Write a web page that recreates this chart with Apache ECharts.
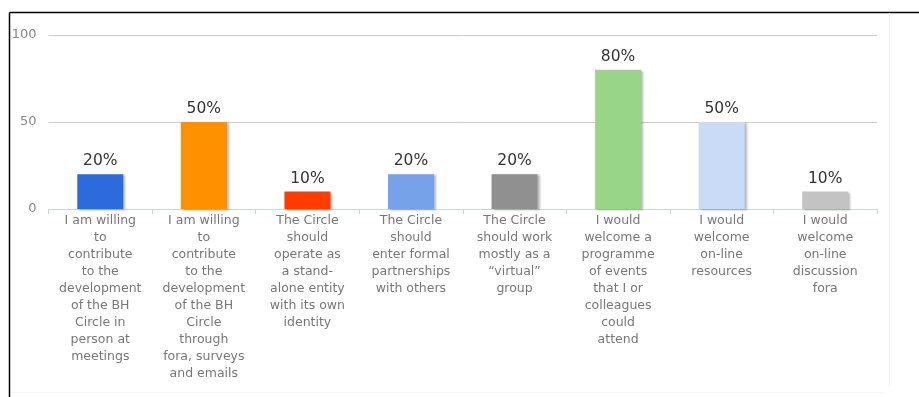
<!DOCTYPE html>
<html>
<head>
<meta charset="utf-8">
<script src="https://cdn.jsdelivr.net/npm/echarts@6/dist/echarts.min.js"></script>
<style>html,body{margin:0;padding:0;background:#fff}#c{width:919px;height:397px}</style>
</head>
<body>
<div id="c"></div>
<script>
var categories = [
  "I am willing\nto\ncontribute\nto the\ndevelopment\nof the BH\nCircle in\nperson at\nmeetings",
  "I am willing\nto\ncontribute\nto the\ndevelopment\nof the BH\nCircle\nthrough\nfora, surveys\nand emails",
  "The Circle\nshould\noperate as\na stand-\nalone entity\nwith its own\nidentity",
  "The Circle\nshould\nenter formal\npartnerships\nwith others",
  "The Circle\nshould work\nmostly as a\n\u201cvirtual\u201d\ngroup",
  "I would\nwelcome a\nprogramme\nof events\nthat I or\ncolleagues\ncould\nattend",
  "I would\nwelcome\non-line\nresources",
  "I would\nwelcome\non-line\ndiscussion\nfora"
];
var values = [20, 50, 10, 20, 20, 80, 50, 10];
var colors = ["#2B6BDB", "#FF9000", "#FF3D00", "#76A2EA", "#909090", "#98D588", "#C9DBF7", "#C3C3C3"];
var yTicks = [0, 50, 100];

var chart = echarts.init(document.getElementById('c'));
chart.setOption({
  animation: false,
  grid: {left: 48.5, right: 42, top: 35, bottom: 188, containLabel: false},
  graphic: [
    {type: 'line', shape: {x1: 9.5, y1: 12.5, x2: 919, y2: 12.5}, style: {stroke: '#000', lineWidth: 1.5}},
    {type: 'line', shape: {x1: 9.5, y1: 12.5, x2: 9.5, y2: 397}, style: {stroke: '#000', lineWidth: 1.5}},
    {type: 'line', shape: {x1: 889.5, y1: 13, x2: 889.5, y2: 386}, style: {stroke: '#f3f3f3', lineWidth: 1}},
    {type: 'line', shape: {x1: 11, y1: 392.5, x2: 884, y2: 392.5}, style: {stroke: '#f5f5f5', lineWidth: 1}}
  ],
  xAxis: {
    type: 'category',
    data: categories,
    axisLine: {lineStyle: {color: '#C6D6EE', width: 1}},
    axisTick: {show: true, length: 5, lineStyle: {color: '#C6D6EE'}},
    axisLabel: {
      interval: 0, color: '#777', fontFamily: 'DejaVu Sans', fontSize: 12.5,
      lineHeight: 17, margin: 3
    }
  },
  yAxis: {
    type: 'value', min: 0, max: 100, interval: 50,
    axisLine: {show: false}, axisTick: {show: false},
    axisLabel: {
      color: '#888', fontFamily: 'DejaVu Sans', fontSize: 13, margin: 12,
      formatter: function (v) { return yTicks.indexOf(v) >= 0 ? String(v) : ''; }
    },
    splitLine: {lineStyle: {color: '#CCCCCC', width: 1}}
  },
  series: [{
    type: 'bar',
    barWidth: 46,
    data: values.map(function (v, i) {
      return {value: v, itemStyle: {color: colors[i]}};
    }),
    itemStyle: {
      shadowColor: 'rgba(0,0,0,0.28)', shadowBlur: 2, shadowOffsetX: 2, shadowOffsetY: 1
    },
    label: {
      show: true, position: 'top', distance: 5,
      color: '#333', fontFamily: 'DejaVu Sans', fontSize: 15.5,
      formatter: function (p) { return p.value + '%'; }
    }
  }]
});
</script>
</body>
</html>
